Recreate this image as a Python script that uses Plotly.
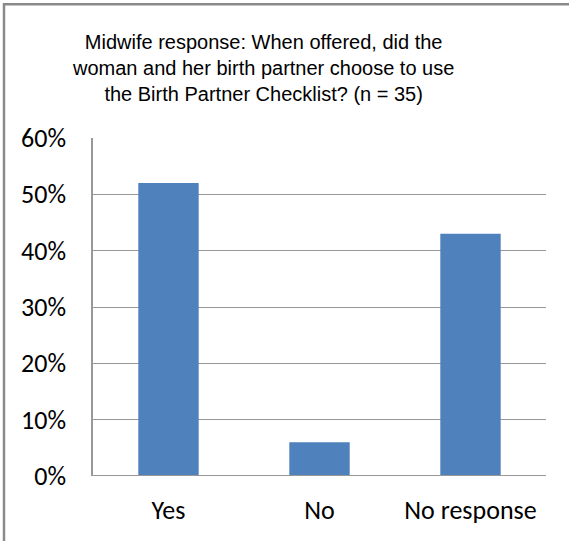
import plotly.graph_objects as go

# Survey answers (percentage of midwife responses)
categories = ["Yes", "No", "No response"]
percent = [52, 6, 43]
y_ticks = [0, 10, 20, 30, 40, 50, 60]
y_tick_text = [f"{v}%" for v in y_ticks]

title_lines = [
    "Midwife response: When offered, did the",
    "woman and her birth partner choose to use",
    "the Birth Partner Checklist? (n = 35)",
]

W, H = 569, 541
L, R, T, B = 93, 23, 138, 65

fig = go.Figure(
    go.Bar(
        x=categories,
        y=percent,
        marker=dict(color="#4F81BD", line=dict(width=0)),
        width=0.4,
        hoverinfo="skip",
    )
)

tick_font = dict(family="Carlito, Lato, sans-serif", size=26, color="#000000")

fig.update_layout(
    width=W,
    height=H,
    margin=dict(l=L, r=R, t=T, b=B, pad=0),
    paper_bgcolor="white",
    plot_bgcolor="white",
    showlegend=False,
    xaxis=dict(
        showgrid=False,
        showline=False,
        ticks="",
        tickfont=tick_font,
        ticklabelstandoff=16,
    ),
    yaxis=dict(
        range=[0, 60],
        tickvals=y_ticks,
        ticktext=y_tick_text,
        showgrid=True,
        gridcolor="#989898",
        gridwidth=1.3,
        zeroline=False,
        showline=True,
        linecolor="#989898",
        linewidth=1.5,
        ticks="",
        tickfont=tick_font,
        ticklabelstandoff=20,
    ),
)

# Baseline along 0%
fig.add_shape(type="line", xref="paper", yref="y", x0=0, x1=1, y0=0, y1=0,
              line=dict(color="#989898", width=2), layer="above")

# Chart frame (top and left edges)
pw, ph = W - L - R, H - T - B
def px_x(p):
    return (p - L) / pw
def px_y(p):
    return (H - B - p) / ph

frame = dict(color="#8A8A8A", width=2.5)
fig.add_shape(type="line", xref="paper", yref="paper",
              x0=px_x(4), x1=px_x(W + 5), y0=px_y(4.3), y1=px_y(4.3), line=frame)
fig.add_shape(type="line", xref="paper", yref="paper",
              x0=px_x(4), x1=px_x(4), y0=px_y(3), y1=px_y(H + 5), line=frame)

# Title
fig.add_annotation(
    xref="paper", yref="paper",
    x=px_x(263), y=px_y(68),
    xanchor="center", yanchor="middle",
    text="<br>".join(title_lines),
    showarrow=False,
    align="center",
    font=dict(family="Liberation Sans, Arial, sans-serif", size=20, color="#000000"),
)

fig.write_html("out.html")
